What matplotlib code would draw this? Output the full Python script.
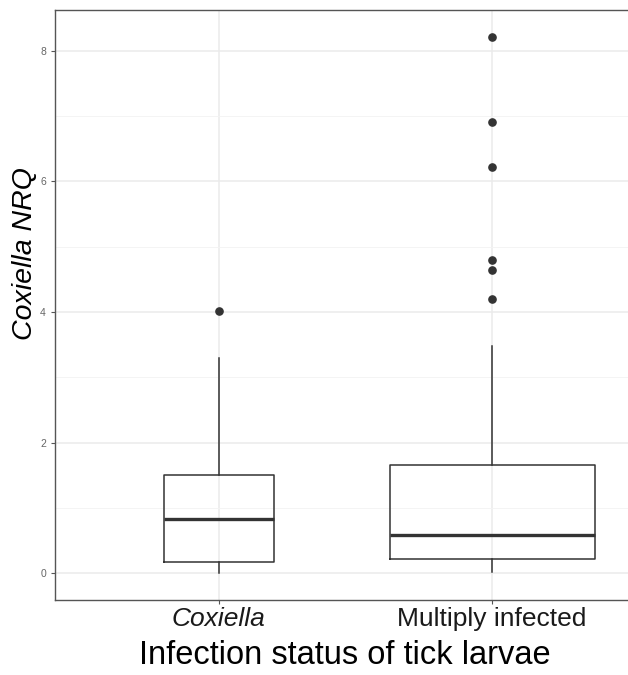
import matplotlib
matplotlib.use("Agg")
import matplotlib.pyplot as plt
from matplotlib.ticker import MultipleLocator

# values
groups = ["Coxiella", "Multiply infected"]
q1 = [0.17, 0.215]
medians = [0.83, 0.59]
q3 = [1.50, 1.65]
whisk_lo = [0.0, 0.02]
whisk_hi = [3.29, 3.48]
outliers = [[4.01], [8.21, 6.91, 6.22, 4.79, 4.64, 4.19]]
box_widths = [0.40, 0.75]   # varwidth-style boxes

plt.rcParams["font.family"] = ["Liberation Sans", "DejaVu Sans"]

fig = plt.figure(figsize=(6.28, 6.75), dpi=100)
ax = fig.add_axes([55 / 628, 75 / 675, 601 / 628, 590 / 675])

stats = []
for i, name in enumerate(groups):
    stats.append(dict(label=name, q1=q1[i], med=medians[i], q3=q3[i],
                      whislo=whisk_lo[i], whishi=whisk_hi[i], fliers=outliers[i]))

line_c = "#333333"
ax.bxp(stats, positions=[1, 2], widths=box_widths, showcaps=False,
       boxprops=dict(color=line_c, linewidth=1.1),
       whiskerprops=dict(color=line_c, linewidth=1.1),
       medianprops=dict(color=line_c, linewidth=2.4),
       flierprops=dict(marker="o", markerfacecolor=line_c, markeredgecolor=line_c,
                       markersize=5.2),
       zorder=3)

ax.set_xlim(0.4, 2.6)
ax.set_ylim(-0.41, 8.62)
ax.yaxis.set_major_locator(MultipleLocator(2))
ax.yaxis.set_minor_locator(MultipleLocator(1))
ax.grid(True, which="major", color="#EBEBEB", linewidth=1.1, zorder=0)
ax.grid(True, which="minor", axis="y", color="#F3F3F3", linewidth=0.6, zorder=0)
ax.set_axisbelow(True)

for s in ax.spines.values():
    s.set_color("#555555")
    s.set_linewidth(1.0)

ax.tick_params(axis="y", which="major", labelsize=7.5, labelcolor="#666666",
               color="#555555", length=3)
ax.tick_params(axis="y", which="minor", length=0)
ax.tick_params(axis="x", labelsize=19, labelcolor="#1a1a1a", color="#555555",
               length=3, pad=2)
ax.set_xticks([1, 2])
ax.set_xticklabels(groups)
ax.get_xticklabels()[0].set_style("italic")

ax.set_ylabel("Coxiella NRQ", fontsize=20.5, style="italic")
ax.yaxis.set_label_coords(-0.028, 0.588)
ax.set_xlabel("Infection status of tick larvae", fontsize=23.5)
ax.xaxis.set_label_coords(0.482, -0.068)

fig.savefig("out.png", dpi=100)
